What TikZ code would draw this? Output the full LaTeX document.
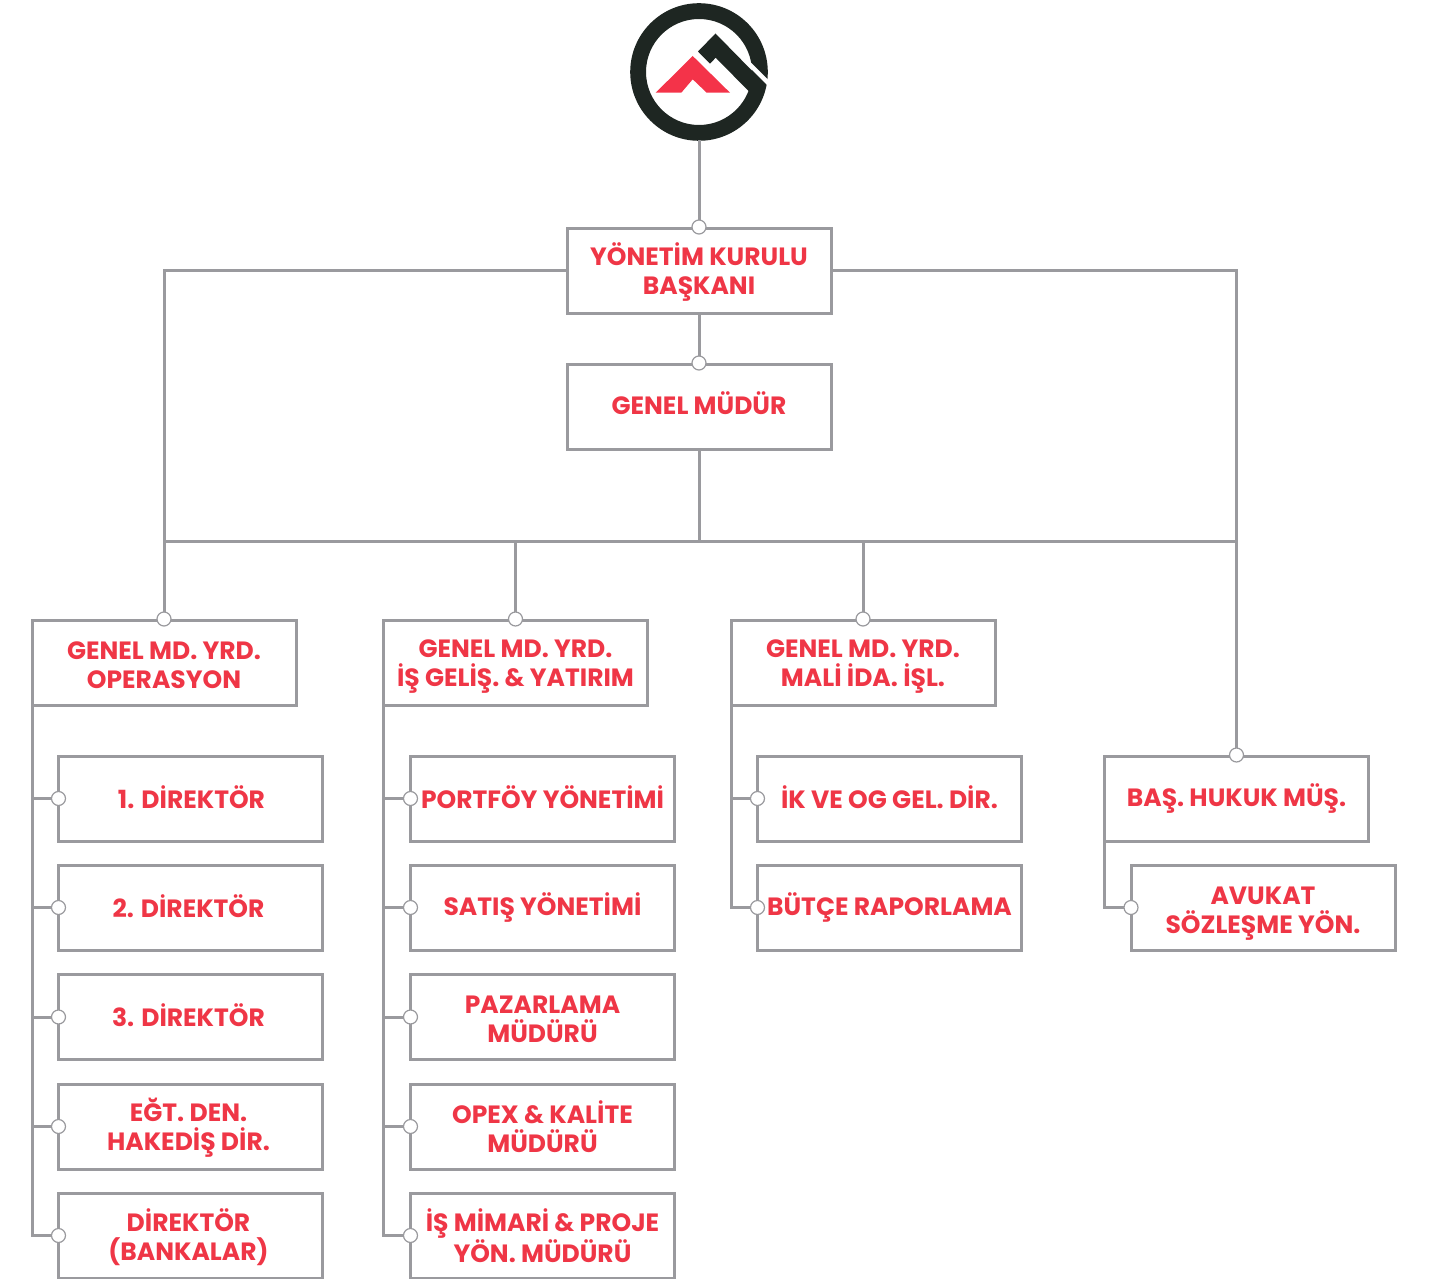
\documentclass[tikz,border=0pt]{standalone}
\usepackage{fontspec}
\setmainfont{Poppins}[BoldFont={Poppins Bold}]
\definecolor{linegray}{HTML}{9A9A9E}
\definecolor{textred}{HTML}{EF3646}
\definecolor{logodark}{HTML}{1E2622}
\definecolor{logored}{HTML}{F43349}
\newcommand\lftshift{\hspace*{-4pt}}
\newcommand\oneln{\rule{0pt}{20.8pt}}
\newcommand\firstln{\rule{0pt}{25.8pt}}
\tikzset{
  orgbox/.style={draw=linegray,line width=3pt,fill=white,minimum width=264pt,minimum height=85pt,inner sep=0pt,outer sep=0pt,align=center,text=textred,font=\fontsize{25}{29}\selectfont\bfseries,
    execute at end node={\rule[-3.2pt]{0pt}{3.2pt}}},
  oneup/.style={orgbox,execute at end node={\rule[-7pt]{0pt}{7pt}}},
  link/.style={draw=linegray,line width=3pt},
  dot/.style={circle,draw=linegray,line width=1.2pt,fill=white,minimum size=14pt,inner sep=0pt,outer sep=0pt}
}
\begin{document}
\begin{tikzpicture}[x=1pt,y=-1pt]
\useasboundingbox (0,0) rectangle (1430,1279);
% logo
\fill[logodark,even odd rule] (699,72) circle (68.8) (699,72) circle (53);
\node[circle,minimum size=1pt,inner sep=0pt,outer sep=0pt] (logo) at (699,140) {};
\fill[white] (745,56.7) -- (776,87.7) -- (776,94) -- (745,63) -- cycle;
\fill[logodark] (715.5,33.5) -- (698,51.5) -- (710,63.7) -- (715.7,57.7) -- (750,92.5) -- (766,85) -- cycle;
\fill[logored] (692.7,56) -- (730,92.7) -- (706.7,92.7) -- (692.7,79.3) -- (681.3,92.7) -- (655.7,92.7) -- cycle;
% boxes
\node[orgbox] (bod) at (699,270.5) {\firstln YÖNETİM KURULU\\BAŞKANI};
\node[oneup] (gm) at (699,406.5) {\oneln GENEL MÜDÜR};
\node[orgbox] (ops) at (164,662.5) {\firstln GENEL MD. YRD.\\OPERASYON};
\node[orgbox] (dev) at (515.5,662.5) {\firstln GENEL MD. YRD.\\İŞ GELİŞ. \& YATIRIM};
\node[orgbox] (fin) at (863,662.5) {\firstln GENEL MD. YRD.\\MALİ İDA. İŞL.};
\node[orgbox] (law) at (1236.5,798.5) {\oneln BAŞ. HUKUK MÜŞ.};
\node[orgbox] (a1) at (190.5,798.5) {\oneln\hspace*{2pt}1. DİREKTÖR};
\node[orgbox] (a2) at (190.5,907.5) {\oneln\lftshift 2. DİREKTÖR};
\node[orgbox] (a3) at (190.5,1017) {\oneln\lftshift 3. DİREKTÖR};
\node[orgbox] (a4) at (190.5,1126.5) {\firstln\lftshift EĞT. DEN.\\\lftshift HAKEDİŞ DİR.};
\node[orgbox] (a5) at (190.5,1235.5) {\firstln\lftshift DİREKTÖR\\\lftshift (BANKALAR)};
\node[orgbox] (b1) at (542.5,798.5) {\oneln PORTFÖY YÖNETİMİ};
\node[orgbox] (b2) at (542.5,907.5) {\oneln SATIŞ YÖNETİMİ};
\node[orgbox] (b3) at (542.5,1017) {\firstln PAZARLAMA\\MÜDÜRÜ};
\node[orgbox] (b4) at (542.5,1126.5) {\firstln OPEX \& KALİTE\\MÜDÜRÜ};
\node[orgbox] (b5) at (542.5,1235.5) {\firstln İŞ MİMARİ \& PROJE\\YÖN. MÜDÜRÜ};
\node[orgbox] (c1) at (889.5,798.5) {\oneln İK VE OG GEL. DİR.};
\node[orgbox] (c2) at (889.5,907.5) {\oneln BÜTÇE RAPORLAMA};
\node[orgbox] (d1) at (1263,907.5) {\rule{0pt}{29.4pt}AVUKAT\\SÖZLEŞME YÖN.};
% connectors
\draw[link] (logo) -- (bod.north);
\draw[link] (bod) -- (gm);
\draw[link] (bod.west) -| (ops.north);
\draw[link] (bod.east) -| (law.north);
\draw[link] (gm.south) -- ++(0,92) coordinate (hub);
\draw[link] (ops.north |- hub) -- (law.north |- hub);
\draw[link] (dev.north |- hub) -- (dev.north);
\draw[link] (fin.north |- hub) -- (fin.north);
\foreach \k in {a1,a2,a3,a4,a5} \draw[link] (ops.south west) |- (\k.west);
\foreach \k in {b1,b2,b3,b4,b5} \draw[link] (dev.south west) |- (\k.west);
\foreach \k in {c1,c2} \draw[link] (fin.south west) |- (\k.west);
\draw[link] (law.south west) |- (d1.west);
% markers
\foreach \k in {bod,gm,ops,dev,fin,law} \node[dot] at ([yshift=1pt]\k.north) {};
\foreach \k in {a1,a2,a3,a4,a5,b1,b2,b3,b4,b5,c1,c2,d1} \node[dot] at (\k.west) {};
\end{tikzpicture}
\end{document}
